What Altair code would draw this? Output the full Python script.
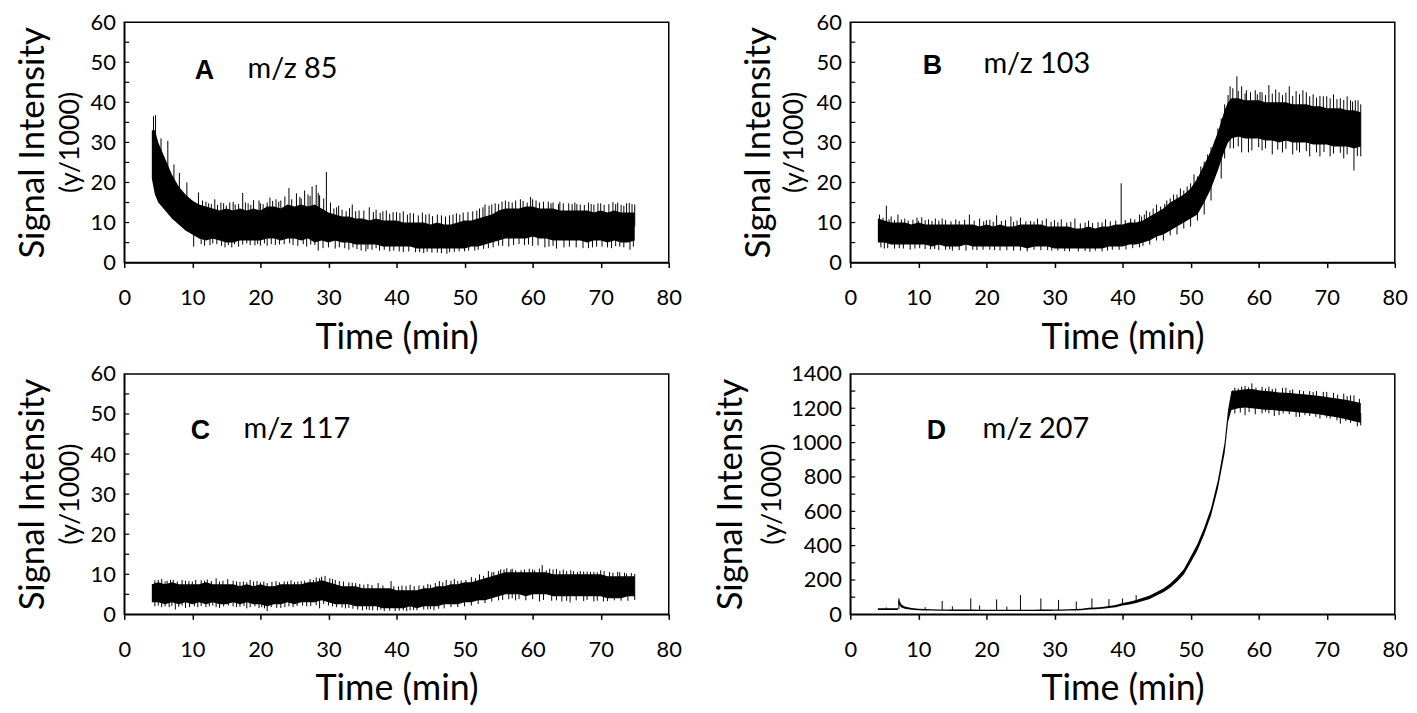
import altair as alt
import pandas as pd

FONT = "Lato"

# ---------------- Panel A : m/z 85 ----------------
A_t = [4.05, 4.5] + list(range(5, 76))
A_lo = [21, 17, 15, 13, 11, 9.5, 8, 7, 6, 5.5, 6, 5.5, 5, 5, 5.5, 5.5, 5.5, 5.5, 6, 6, 5.5, 6, 6, 5.5, 6, 5,
        5.5, 5, 5.5, 5, 5, 4.5, 4.5, 4.5, 4.5, 4, 4, 4, 4, 4, 3.5, 3.5, 3.5, 3.5, 3.5, 3.5, 3.5, 3.5, 4, 4, 4.5,
        5, 5.5, 6, 6, 6, 6, 6.5, 6, 6, 5.5, 5.5, 5.5, 5.5, 5.5, 5, 5.5, 5.5, 5, 5.5, 5, 5, 5.5]
A_hi = [33, 33, 30, 26, 22, 19, 17, 15.5, 14.5, 14, 13.5, 13, 13.5, 13, 13.5, 13, 13.5, 13, 14, 14, 13.5, 14.5,
        14, 14.5, 14, 14.5, 13.5, 12.5, 12, 11.5, 11.5, 11, 11, 10.5, 11, 10.5, 10.5, 10.5, 10, 10, 10, 10, 9.5,
        10, 9.5, 9.5, 10, 10.5, 10.5, 11, 11.5, 12, 13, 13.5, 13.5, 13.5, 14, 14, 13.5, 13.5, 13.5, 13, 13, 13,
        13, 13, 12.5, 13, 12.5, 13, 12.5, 12.5, 12.5]
# spikes (time, tip value)
A_spikes = [
    (4.3, 36.5), (4.6, 36.8), (5.4, 31), (6.4, 30.4), (7.3, 24.5), (8.1, 22.4), (9.2, 20), (10.9, 17.5),
    (11.5, 15.5), (12.0, 15.2), (12.4, 14.8), (12.8, 14.6), (13.3, 15.8), (13.7, 14.4), (14.2, 15),
    (14.6, 14.8), (15.0, 14.2), (15.5, 15), (16.0, 15.2), (16.3, 14.5), (16.8, 14.6), (17.4, 17.4),
    (17.8, 15), (18.2, 14.8), (18.6, 14.4), (19.0, 15.6), (19.8, 15.5), (20.0, 14.8), (20.4, 14.6),
    (21.0, 15), (21.4, 16.2), (21.8, 15.4), (22.3, 15.8), (22.7, 15.2), (23.0, 15.5), (23.6, 16.5),
    (24.2, 18.6), (24.6, 15.8), (25.3, 17.3), (25.8, 16.4), (26.0, 16), (26.5, 18), (27.0, 17),
    (27.3, 16.6), (27.6, 19), (28.2, 19.4), (28.5, 17.4), (28.7, 16.8), (29.3, 16), (29.7, 22.6),
    (30.3, 15), (30.8, 13.5), (31.2, 13.8), (31.5, 14.2), (32.0, 13.2), (32.6, 12.8), (33.1, 13.6),
    (33.5, 14.5), (34.0, 12.8), (34.5, 13), (35.2, 13), (36.0, 13.8), (36.6, 12.6), (37.0, 13.2),
    (37.6, 12.4), (38.0, 12.8), (38.5, 13), (39.0, 12.2), (39.5, 12.6), (40.0, 12.6), (40.5, 12.4),
    (41.0, 12.8), (41.6, 12), (42.0, 12.4), (42.5, 12.3), (43.2, 11.8), (43.8, 12.5), (44.3, 12),
    (44.8, 12.2), (45.3, 11.6), (46.0, 12), (46.6, 11.8), (47.2, 11.5), (47.8, 11.8), (48.3, 12),
    (48.8, 12.3), (49.3, 12), (49.8, 12.5), (50.5, 12.6), (51.2, 12.8), (51.8, 13), (52.2, 13.5),
    (52.7, 13.8), (53.0, 14.5), (53.6, 14.2), (54.0, 14.5), (54.5, 14.8), (55.0, 14.6), (55.5, 15.2),
    (56.0, 15.5), (56.5, 15.2), (57.0, 15), (57.5, 15.5), (58.2, 15.8), (58.6, 15.4), (59.2, 15),
    (59.7, 16.4), (60.0, 15.8), (60.5, 15.5), (61.0, 15), (61.6, 15.2), (62.3, 15.2), (62.7, 14.8),
    (63.0, 15), (63.8, 14.6), (64.0, 15.2), (64.5, 14.8), (65.3, 14.8), (65.8, 14.6), (66.2, 15),
    (66.5, 14.6), (67.0, 14.5), (67.6, 14.4), (68.2, 15), (68.6, 14.6), (69.0, 14.5), (69.6, 14.8),
    (70.0, 14.8), (70.5, 14.4), (71.2, 14.6), (71.8, 15.1), (72.2, 14.6), (72.5, 15), (73.0, 14.4),
    (73.4, 14.2), (73.8, 14.8), (74.2, 14.9), (74.6, 14.6), (75.0, 14.5),
    (10.2, 4), (11.3, 4.6), (11.8, 4.2), (12.6, 4.4), (13.0, 4.8), (13.6, 4.6), (14.3, 4.2), (14.8, 3.8),
    (15.3, 4.4), (15.8, 3.8), (16.2, 4.6), (16.8, 4), (17.4, 4.5), (18.0, 4.8), (18.5, 4.4), (19.2, 4.3),
    (19.6, 4.6), (20.0, 4.2), (20.6, 4.8), (21.0, 4.2), (21.6, 4.6), (22.2, 4.4), (22.8, 4.5), (23.5, 4.6),
    (24.3, 4.8), (24.8, 4.4), (25.5, 4.2), (26.3, 4.6), (26.8, 4), (27.4, 4.5), (28.0, 4.4), (28.5, 3),
    (29.2, 3.6), (30.0, 3.8), (31.0, 3.5), (31.6, 3.8), (32.4, 3.6), (33.0, 3.2), (33.6, 3.8), (34.2, 3.4),
    (34.8, 3), (35.5, 2.8), (35.8, 3.4), (36.4, 3.2), (37.0, 3.6), (37.5, 3), (38.2, 3.2), (39.0, 2.8),
    (39.6, 3), (40.4, 2.8), (41.0, 2.6), (41.8, 2.8), (42.8, 2.6), (43.4, 2.6), (44.0, 2.4), (44.5, 2.7),
    (45.2, 2.5), (46.0, 2.5), (46.6, 2.4), (47.4, 2.2), (47.8, 2.6), (48.5, 2.7), (49.2, 2.8), (50.0, 2.8),
    (50.6, 3), (51.5, 3), (52.0, 3.2), (52.8, 3.4), (53.5, 3.6), (54.2, 3.8), (55.0, 4.2), (55.6, 4.2),
    (56.5, 4), (57.2, 4.4), (58.0, 4.6), (58.8, 4.4), (59.4, 4.5), (60.0, 4.2), (60.8, 4.3), (61.8, 3.8),
    (62.4, 4), (63.0, 4.2), (63.5, 3.5), (64.6, 3.8), (65.4, 4), (66.4, 3.8), (67.4, 3.6), (68.2, 3.6),
    (68.8, 3.8), (69.4, 4), (70.2, 4), (71.0, 3.8), (71.6, 3.6), (72.2, 4.1), (72.8, 4), (73.4, 3.8),
    (74.3, 3.2), (74.8, 4),
]

# ---------------- Panel B : m/z 103 ----------------
B_t = [4.05] + list(range(5, 56)) + [55.5] + list(range(56, 76))
B_lo = [5, 5, 4.5, 4.5, 4.5, 4.5, 4.5, 4.5, 4, 4.5, 4, 4, 4, 4.5, 4, 4, 4, 4, 4, 4, 4, 4, 3.5, 4, 4, 4, 3.5, 3.5,
        3.5, 3.5, 3.5, 3.5, 3.5, 3.5, 4, 4, 4, 4.5, 4.5, 5, 5.5, 6.5, 7, 8, 9, 10, 11, 12, 15, 18.5, 23, 28, 30,
        31, 31.5, 31, 31, 31, 30.5, 30.5, 30, 30.5, 30, 30, 30, 29.5, 29.5, 29.5, 29, 29, 29, 28.5, 29]
B_hi = [11, 10.5, 10, 10, 10, 9.5, 10, 9.5, 9.5, 9.5, 9.5, 9.5, 9.5, 9.5, 9.5, 9, 9.5, 9, 9.5, 9, 9, 9.5, 9.5,
        9.5, 9.5, 9, 9, 9, 9, 8.5, 8.5, 9, 8.5, 9, 9, 9.5, 9.5, 10, 10, 10.5, 11.5, 12.5, 13.5, 15, 16, 17, 18.5,
        21, 24.5, 28, 32.5, 38, 40, 41, 41, 40.5, 40.5, 40.5, 40, 40, 40, 40, 39.5, 39.5, 39.5, 39, 39, 38.5,
        38.5, 38.5, 38, 38, 37.5]
B_spikes = [
    (4.3, 12), (4.8, 11.2), (5.3, 14.2), (5.7, 10.8), (6.0, 11.5), (6.5, 10.6), (7.0, 12), (7.5, 10.8),
    (8.0, 11), (8.5, 10.5), (9.2, 10.7), (9.8, 11.2), (10.0, 10.4), (10.5, 11.3), (11.0, 10.6),
    (11.5, 10.8), (12.0, 10.4), (12.5, 11), (13.0, 10.5), (13.5, 11), (14.0, 10.6), (14.8, 10.3),
    (15.5, 10.8), (16.0, 10.4), (16.8, 10.7), (17.5, 12), (18.2, 10.5), (19.0, 11), (19.6, 10.3),
    (20.0, 10.6), (20.5, 10.7), (21.0, 10.2), (21.5, 11.8), (22.2, 10.4), (22.8, 10.6), (23.6, 11.5),
    (24.0, 10.2), (24.5, 10.5), (25.0, 11.2), (25.8, 10.3), (26.5, 10.4), (27.0, 10.2), (27.5, 11),
    (28.2, 10.5), (28.8, 11), (29.5, 10.2), (30.0, 10.6), (30.5, 10.1), (31.0, 10.8), (31.8, 10),
    (32.4, 10.2), (33.0, 11), (33.8, 9.8), (34.5, 10), (35.0, 10.5), (35.6, 9.9), (36.4, 10.1),
    (37.0, 10), (37.5, 10.8), (38.2, 10.3), (39.0, 10.5), (39.8, 19.8), (40.4, 10.6), (41.2, 11),
    (41.8, 10.8), (42.5, 12), (42.8, 11.5), (43.2, 12), (43.5, 13), (44.0, 12.6), (44.5, 13.5),
    (45.0, 14.5), (45.6, 14), (46.2, 14.6), (46.5, 15.5), (47.0, 16), (47.5, 17), (48.0, 17),
    (48.5, 18.5), (49.0, 18), (49.5, 19), (50.0, 19.8), (50.5, 22), (51.0, 21.5), (51.5, 24),
    (52.0, 25.2), (52.5, 27), (53.0, 28.8), (53.6, 30.5), (54.0, 33.5), (54.5, 36), (55.0, 39.5),
    (55.5, 41.8), (55.8, 44), (56.2, 43.5), (56.8, 46.5), (57.0, 42.8), (57.5, 44), (58.0, 42.2),
    (58.2, 43), (58.8, 42.5), (59.5, 43), (59.8, 42), (60.2, 42.6), (60.5, 42.5), (61.0, 41.8),
    (61.5, 44.3), (62.0, 42.2), (62.5, 43.2), (63.0, 42.5), (63.5, 41.8), (64.0, 42.4), (64.5, 44),
    (65.0, 41.6), (65.5, 42.8), (66.0, 42), (66.5, 43), (67.0, 42.5), (67.5, 41.5), (68.0, 42),
    (68.5, 41.2), (69.0, 41.6), (69.5, 41.5), (70.0, 41.5), (70.5, 41), (71.0, 42), (71.5, 40.8),
    (72.0, 41), (72.5, 40.6), (73.0, 41.5), (73.5, 40.5), (73.8, 40.2), (74.2, 40.5), (74.6, 40.5),
    (75.0, 39.5),
    (4.5, 3.8), (5.0, 3.5), (5.5, 3.6), (6.5, 3.5), (7.2, 3.6), (7.8, 3.5), (8.8, 3.2), (9.5, 3.5),
    (10.2, 3.6), (11.0, 3.4), (11.8, 3.3), (12.4, 3.4), (13.0, 3.1), (14.0, 3.2), (14.6, 3.3), (15.0, 3),
    (16.0, 3.1), (17.0, 3), (18.0, 3.2), (18.6, 3.1), (19.5, 3.2), (20.5, 3.2), (21.2, 3.1), (22.0, 3),
    (23.0, 3.1), (24.0, 3), (25.0, 3), (26.0, 2.8), (27.0, 3.2), (28.0, 3.1), (29.0, 3.1), (29.6, 3),
    (30.5, 3), (31.5, 2.9), (32.2, 2.8), (33.5, 2.8), (34.5, 2.9), (35.2, 2.7), (36.0, 3), (37.0, 2.8),
    (37.8, 3), (38.5, 3.2), (39.5, 3.2), (40.5, 3.3), (41.5, 3.6), (42.5, 3.8), (43.0, 4.2), (44.0, 4.5),
    (45.0, 5.5), (46.0, 5.5), (47.0, 6.8), (48.0, 7), (49.0, 8.5), (50.0, 9), (51.0, 10.5), (52.0, 12),
    (53.0, 15.5), (54.5, 21), (55.0, 26), (55.8, 28.5), (56.3, 28.5), (57.0, 29), (57.5, 27.5),
    (58.5, 27.5), (59.0, 28), (60.0, 28.8), (60.5, 28), (61.0, 28.5), (62.0, 27), (62.8, 28.2),
    (63.5, 27.5), (64.0, 28.4), (65.0, 27), (65.6, 28), (66.0, 27.5), (67.0, 27.8), (67.5, 26.5),
    (68.5, 27.5), (69.0, 26.5), (69.6, 27.6), (70.5, 26.5), (71.0, 27.2), (72.0, 27.4), (72.5, 26),
    (73.0, 27), (74.0, 23), (74.5, 26.6), (75.0, 26.5),
]

# ---------------- Panel C : m/z 117 ----------------
C_t = [4.05] + list(range(5, 76))
C_lo = [3, 3, 2.5, 3, 2.5, 3, 2.5, 3, 2.5, 3, 2.5, 2.5, 3, 2.5, 3, 2.5, 2.5, 2, 2.5, 2.5, 3, 2.5, 3, 3, 3, 3.5, 3,
        2.5, 2.5, 2.5, 2, 2, 2, 2, 1.5, 1.5, 1.5, 1.5, 2, 1.5, 2, 2, 2, 2.5, 2.5, 2.5, 3, 3, 3.5, 3.5, 4, 4.5, 5,
        5, 5, 4.5, 5, 5, 5, 4.5, 4.5, 4.5, 4.5, 4.5, 4.5, 4.5, 4.5, 4, 4, 4, 4.5, 4.5]
C_hi = [7.5, 8, 7.5, 8, 7.5, 7.5, 7.5, 7.5, 8, 7.5, 7.5, 7.5, 7.5, 7, 7.5, 7, 7.5, 7, 7, 7.5, 7.5, 7.5, 7.5, 8, 8,
        8.5, 8, 7.5, 7, 7, 7, 6.5, 6.5, 6.5, 6.5, 6.5, 6, 6, 6, 6, 6.5, 6.5, 7, 7, 7.5, 7.5, 8, 8, 8.5, 9, 9.5,
        10, 10.5, 10.5, 10.5, 10.5, 10.5, 10.5, 10.5, 10, 10, 10, 10, 10, 10, 10, 10, 9.5, 9.5, 9.5, 9.5, 9.5]
C_spikes = [
    (4.5, 8.5), (5.0, 8.6), (5.5, 8.8), (6.0, 8.2), (6.3, 8.4), (6.8, 8.6), (7.2, 8.6), (7.8, 8.2),
    (8.5, 8.6), (9.0, 8.4), (9.5, 8.3), (10.0, 8.2), (10.5, 8.6), (11.3, 8.5), (11.8, 8.4), (12.2, 8.7),
    (12.8, 8.3), (13.5, 9), (14.0, 8.2), (14.5, 8.4), (15.2, 8.8), (16.0, 8.4), (16.5, 8.2), (17.0, 8.1),
    (17.5, 8.2), (18.0, 8), (18.5, 8.6), (19.0, 8.2), (19.5, 8.3), (20.0, 8), (20.5, 8.2), (21.0, 7.8),
    (21.7, 8.1), (22.3, 8.3), (22.8, 8), (23.5, 8.2), (24.0, 8.2), (24.5, 8.5), (25.0, 8.1), (25.5, 8.2),
    (26.0, 8.3), (26.5, 8.4), (27.3, 8.8), (27.8, 8.6), (28.2, 9.2), (28.7, 9), (29.0, 9.4), (29.5, 9.6),
    (30.2, 9), (30.6, 8.8), (31.0, 8.6), (31.6, 8.3), (32.2, 8.2), (33.0, 8), (33.5, 7.9), (34.0, 7.8),
    (34.6, 7.6), (35.2, 7.4), (35.8, 7.6), (36.4, 7.3), (37.3, 7.8), (38.0, 7.2), (39.2, 8.3), (39.6, 7),
    (40.3, 7), (40.8, 7.2), (41.4, 7.1), (42.0, 7.4), (42.6, 7), (43.3, 7.2), (44.0, 7.2), (44.6, 7.6),
    (45.0, 7.4), (45.7, 7.8), (46.3, 8.3), (46.8, 8), (47.3, 8.6), (48.0, 8.4), (48.5, 8.8), (49.0, 8.3),
    (49.5, 8.5), (50.2, 8.6), (51.0, 9.3), (51.6, 9), (52.2, 10), (52.8, 9.6), (53.5, 10.8), (54.0, 10.5),
    (54.3, 10.6), (55.0, 10.8), (55.3, 11.2), (55.8, 11.2), (56.2, 11.5), (56.8, 11.2), (57.0, 11.4),
    (57.5, 11), (58.3, 11), (58.8, 11.2), (59.5, 11.4), (60.0, 11.2), (60.3, 11), (61.0, 11.4),
    (61.4, 12.3), (62.0, 11), (62.5, 11.4), (63.0, 11.2), (63.5, 11.3), (64.0, 10.9), (64.5, 11.2),
    (65.0, 10.8), (65.6, 11), (66.0, 10.8), (66.6, 10.6), (67.0, 10.8), (67.5, 10.7), (68.0, 10.7),
    (68.5, 10.6), (69.0, 10.6), (69.5, 10.5), (70.0, 11), (70.5, 10.8), (71.3, 10.6), (71.8, 10.4),
    (72.5, 10.6), (72.8, 10.5), (73.5, 10.4), (73.8, 10.2), (74.5, 10.3), (75.0, 10.1),
    (4.5, 2), (5.0, 2.2), (5.5, 1.8), (6.0, 2), (6.6, 1.8), (7.0, 2.1), (7.5, 1.2), (8.0, 1.9), (8.5, 2.2),
    (9.0, 1.6), (9.6, 1.8), (10.3, 2), (10.8, 1.8), (11.3, 2.1), (12.0, 1.8), (12.5, 2), (13.0, 2.2),
    (13.5, 1.8), (14.0, 1.6), (14.6, 2), (15.3, 2.2), (16.0, 2), (16.5, 1.8), (17.0, 1.9), (17.6, 2.1),
    (18.0, 1.5), (18.5, 1.8), (19.2, 2), (19.8, 1.6), (20.2, 1.8), (20.6, 1.5), (21.0, 0.8), (21.6, 1.8),
    (22.4, 1.6), (23.0, 1.6), (23.6, 1.8), (24.2, 2), (24.8, 1.8), (25.4, 2.1), (26.2, 2.2), (26.8, 2),
    (27.4, 2.1), (28.2, 2.3), (28.7, 1.5), (29.3, 2.6), (30.0, 2.2), (30.6, 2), (31.2, 1.8), (32.0, 1.7),
    (32.5, 1.5), (33.0, 1.6), (33.6, 1.4), (34.3, 1.2), (35.0, 1), (35.6, 1.2), (36.0, 1.1), (36.5, 1),
    (37.2, 1), (37.7, 1.2), (38.2, 0.8), (39.0, 0.9), (39.8, 0.8), (40.4, 0.9), (41.0, 1), (41.5, 0.8),
    (42.0, 1), (42.5, 1.1), (43.0, 1), (44.0, 1.2), (44.6, 1.2), (45.0, 1.3), (45.5, 1), (46.2, 1.4),
    (47.0, 1.5), (48.0, 1.8), (49.0, 1.8), (50.0, 2), (51.0, 2.2), (52.0, 2.6), (53.0, 2.8), (54.0, 3.2),
    (55.0, 3.5), (55.6, 3.6), (56.5, 3.8), (57.0, 4), (57.5, 3.5), (58.0, 3.8), (59.0, 3.5), (60.0, 3.8),
    (61.0, 3.2), (61.6, 3.6), (62.8, 3.4), (63.5, 3.5), (64.3, 3.2), (65.0, 3.4), (65.5, 3), (66.4, 3.5),
    (67.5, 3.3), (68.0, 3.6), (69.0, 3.2), (69.5, 3.4), (70.4, 3.2), (71.0, 3.3), (72.0, 3.5), (73.0, 3.4),
    (74.0, 3.4), (75.0, 3.6),
]

# ---------------- Panel D : m/z 207 ----------------
D_t = [4.05, 5, 6, 7, 7.1, 7.5, 8] + list(range(9, 56)) + [55.5] + list(range(56, 76))
D_lo = [26, 26, 25, 25, 60, 40, 32, 27, 24, 23, 22, 21, 21, 20, 20, 20, 20, 19, 19, 19, 19, 19, 19, 19, 19, 19,
        20, 20, 21, 21, 22, 23, 24, 28, 30, 33, 37, 42, 52, 58, 66, 78, 90, 110, 128, 155, 190, 232, 300, 372,
        465, 575, 730, 940, 1120, 1190, 1200, 1205, 1200, 1195, 1192, 1190, 1185, 1183, 1180, 1175, 1172, 1168,
        1163, 1157, 1150, 1143, 1135, 1125, 1115]
D_hi = [36, 36, 35, 35, 90, 58, 46, 37, 33, 31, 30, 29, 29, 28, 28, 28, 28, 27, 27, 27, 27, 27, 27, 27, 27, 27,
        28, 28, 29, 29, 30, 31, 33, 38, 40, 43, 48, 54, 66, 74, 84, 96, 110, 130, 150, 180, 218, 262, 335, 410,
        505, 618, 780, 1000, 1190, 1300, 1305, 1310, 1312, 1305, 1300, 1298, 1292, 1290, 1287, 1283, 1280, 1276,
        1272, 1266, 1260, 1254, 1248, 1240, 1230]
D_spikes = [
    (5.3, 40), (7.15, 93), (11.0, 42), (13.5, 78), (15.0, 47), (17.7, 93), (19.0, 52), (21.5, 87),
    (23.0, 45), (25.0, 112), (28.0, 93), (30.6, 84), (33.2, 75), (35.5, 93), (38.0, 89), (40.0, 93),
    (42.0, 112), (56.2, 1305), (56.5, 1320), (57.0, 1315), (57.5, 1325), (58.0, 1330), (58.5, 1322),
    (59.0, 1345), (59.6, 1320), (60.5, 1325), (61.0, 1315), (61.5, 1325), (62.0, 1312), (62.5, 1315),
    (63.5, 1318), (64.0, 1320), (64.6, 1305), (65.0, 1310), (66.0, 1305), (66.6, 1300), (67.5, 1300),
    (68.0, 1295), (68.5, 1300), (69.5, 1295), (70.0, 1295), (71.0, 1290), (71.6, 1280), (72.5, 1285),
    (73.0, 1270), (73.5, 1275), (74.0, 1275), (74.8, 1255),
    (56.5, 1170), (57.3, 1175), (58.0, 1160), (58.6, 1178), (59.5, 1165), (60.5, 1170), (61.0, 1180),
    (61.5, 1170), (62.3, 1155), (63.0, 1160), (63.6, 1170), (64.5, 1165), (65.5, 1150), (66.0, 1150),
    (66.8, 1160), (67.5, 1155), (68.4, 1150), (69.0, 1140), (70.0, 1145), (70.5, 1140), (71.5, 1130),
    (72.0, 1110), (72.8, 1125), (73.5, 1115), (74.5, 1095), (75.0, 1100),
]

W, H = 548, 242


def panel(t, lo, hi, spikes_list, ymax, ystep, yminor, letter, mz,
          letter_x, mz_x, lab_y, title_x, sub_x):
    band = pd.DataFrame({"t": t, "lo": lo, "hi": hi})
    band["k"] = band["t"]
    spikes = pd.DataFrame(spikes_list, columns=["t", "tip"])
    inner = pd.DataFrame({"lo": [v for v in range(yminor, ymax, yminor)]})
    one = pd.DataFrame({"a": [0]})

    xs = alt.Scale(domain=[0, 80], nice=False, zero=False)
    ys = alt.Scale(domain=[0, ymax], nice=False)
    xaxis = alt.Axis(values=list(range(0, 81, 10)), title="Time (min)", grid=False,
                     labelFont=FONT, labelFontSize=22, labelColor="black", labelPadding=20,
                     labelFlush=False, labelOverlap=False,
                     titleFont=FONT, titleFontSize=36, titleFontWeight="normal", titleColor="black",
                     titlePadding=12, tickSize=5, tickWidth=1.5, tickColor="black",
                     domainColor="black", domainWidth=1.5)
    yaxis = alt.Axis(values=list(range(0, ymax + 1, ystep)), format="d", title="Signal Intensity",
                     grid=False, labelFont=FONT, labelFontSize=22, labelColor="black", labelPadding=9,
                     labelOverlap=False, ticks=False, tickSize=0,
                     titleFont=FONT, titleFontSize=35, titleFontWeight="normal", titleColor="black",
                     titleAngle=270, titleAlign="center", titleBaseline="middle",
                     titleX=title_x, titleY=H / 2,
                     domainColor="black", domainWidth=1.5)
    X = alt.X("t:Q", scale=xs, axis=xaxis)

    area = alt.Chart(band).mark_area(color="black").encode(
        x=X, y=alt.Y("lo:Q", scale=ys, axis=yaxis), y2="hi:Q")
    rules = alt.Chart(spikes).transform_calculate(
        k="max(5, round(datum.t))"
    ).transform_lookup(
        lookup="k",
        from_=alt.LookupData(data=alt.InlineData(values=band[["k", "lo", "hi"]].to_dict("records")),
                             key="k", fields=["lo", "hi"])
    ).transform_calculate(
        mid="(datum.lo + datum.hi) / 2"
    ).mark_rule(color="black", strokeWidth=1).encode(
        x=X, y=alt.Y("tip:Q", scale=ys, axis=yaxis), y2="mid:Q")
    ticks = alt.Chart(inner).mark_rule(color="black", strokeWidth=1.2).encode(
        y=alt.Y("lo:Q", scale=ys, axis=yaxis), x=alt.value(0), x2=alt.value(5))
    let = alt.Chart(one).mark_text(text=letter, font="Liberation Sans", fontWeight="bold", fontSize=27,
                                   align="left", baseline="alphabetic", color="black").encode(
        x=alt.value(letter_x), y=alt.value(lab_y))
    mzt = alt.Chart(one).mark_text(text=mz, font=FONT, fontSize=29, align="left",
                                   baseline="alphabetic", color="black").encode(
        x=alt.value(mz_x), y=alt.value(lab_y - 1))
    sub = alt.Chart(one).mark_text(text="(y/1000)", font=FONT, fontSize=27, angle=270, align="center",
                                   baseline="middle", color="black").encode(
        x=alt.value(sub_x), y=alt.value(H / 2))
    return alt.layer(area, rules, ticks, let, mzt, sub).properties(width=W, height=H)


pA = panel(A_t, A_lo, A_hi, A_spikes, 60, 10, 5, "A", "m/z 85", 71, 124, 57, -92, -54)
pB = panel(B_t, B_lo, B_hi, B_spikes, 60, 10, 5, "B", "m/z 103", 73, 134, 52, -92, -56)
pC = panel(C_t, C_lo, C_hi, C_spikes, 60, 10, 5, "C", "m/z 117", 67, 120, 66, -92, -54)
pD = panel(D_t, D_lo, D_hi, D_spikes, 1400, 200, 100, "D", "m/z 207", 77, 133, 66, -120, -78)

row1 = alt.hconcat(pA, pB, spacing=58.7)
row2 = alt.hconcat(pC, pD, spacing=30.7)
chart = alt.vconcat(row1, row2, spacing=6).properties(
    padding={"left": 7, "top": 0, "right": 0, "bottom": 0}, background="white"
).configure_view(stroke="black", strokeWidth=1.5)

chart.save("out.html", embed_options={"renderer": "svg", "actions": False})
